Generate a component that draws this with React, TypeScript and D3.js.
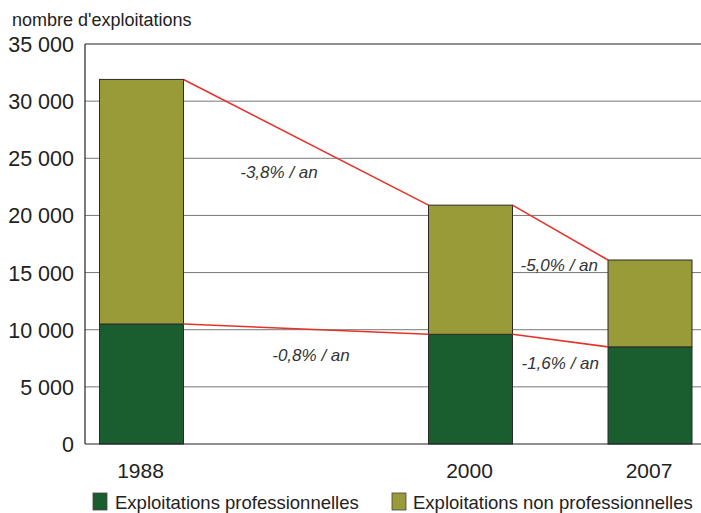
import React from 'react';
import { scaleLinear } from 'd3';

const years = [1988, 2000, 2007];
const professionnelles = [10500, 9600, 8500];
const nonProfessionnelles = [21400, 11300, 7600];
const yTicks = [0, 5000, 10000, 15000, 20000, 25000, 30000, 35000];
const totalRates = ['-3,8% / an', '-5,0% / an'];
const proRates = ['-0,8% / an', '-1,6% / an'];

const GREEN = '#1a5e2f';
const OLIVE = '#989b37';
const RED = '#e2342b';
const FONT = 'Liberation Sans, Arial, sans-serif';

const App = () => {
  const left = 85;
  const right = 701;
  const top = 44;
  const bottom = 444;
  const barWidth = 84;

  const xScale = scaleLinear().domain(years).range([141.5, 470.5, 650]);
  const yScale = scaleLinear().domain([0, 35000]).range([bottom, top]);

  const totals = years.map((y, i) => professionnelles[i] + nonProfessionnelles[i]);
  const fmt = (v: number) => (v === 0 ? '0' : `${Math.floor(v / 1000)} ${String(v % 1000).padStart(3, '0')}`);

  // segments joining bar edges
  const segs = (vals: number[]) =>
    years.slice(0, -1).map((yr, i) => ({
      x1: xScale(yr) + barWidth / 2,
      y1: yScale(vals[i]),
      x2: xScale(years[i + 1]) - barWidth / 2,
      y2: yScale(vals[i + 1]),
    }));
  const totalSegs = segs(totals);
  const proSegs = segs(professionnelles);
  // label offsets from segment midpoint
  const totalOffsets = [[-27, 36], [-1, 38]];
  const proOffsets = [[5, 32], [0, 28]];

  return (
    <svg width={701} height={513} style={{ position: 'absolute', left: 0, top: 0, background: '#fff' }} fontFamily={FONT}>
      <text x={12} y={26} fontSize={18} fill="#222">nombre d'exploitations</text>

      {yTicks.map((t) => (
        <g key={t}>
          {t > 0 && (
            <line x1={left} x2={right} y1={yScale(t)} y2={yScale(t)} stroke={t === 35000 ? '#222' : '#777'} strokeWidth={1} />
          )}
          <text x={74} y={yScale(t) + 8} textAnchor="end" fontSize={21.5} fill="#222">{fmt(t)}</text>
        </g>
      ))}

      {years.map((yr, i) => (
        <g key={yr}>
          <rect x={xScale(yr) - barWidth / 2} y={yScale(professionnelles[i])} width={barWidth}
            height={bottom - yScale(professionnelles[i])} fill={GREEN} stroke="#2a2a2a" strokeWidth={1} />
          <rect x={xScale(yr) - barWidth / 2} y={yScale(totals[i])} width={barWidth}
            height={yScale(professionnelles[i]) - yScale(totals[i])} fill={OLIVE} stroke="#2a2a2a" strokeWidth={1} />
          <text x={xScale(yr) - 1} y={478} textAnchor="middle" fontSize={21} fill="#222">{yr}</text>
        </g>
      ))}

      <line x1={left} x2={left} y1={top} y2={bottom} stroke="#222" strokeWidth={1.2} />
      <line x1={left} x2={right} y1={bottom} y2={bottom} stroke="#222" strokeWidth={1.2} />

      {totalSegs.map((s, i) => (
        <g key={'t' + i}>
          <line {...s} stroke={RED} strokeWidth={1.6} />
          <text x={(s.x1 + s.x2) / 2 + totalOffsets[i][0]} y={(s.y1 + s.y2) / 2 + totalOffsets[i][1]}
            textAnchor="middle" fontSize={17} fontStyle="italic" fill="#333">{totalRates[i]}</text>
        </g>
      ))}
      {proSegs.map((s, i) => (
        <g key={'p' + i}>
          <line {...s} stroke={RED} strokeWidth={1.6} />
          <text x={(s.x1 + s.x2) / 2 + proOffsets[i][0]} y={(s.y1 + s.y2) / 2 + proOffsets[i][1]}
            textAnchor="middle" fontSize={17} fontStyle="italic" fill="#333">{proRates[i]}</text>
        </g>
      ))}

      <rect x={93} y={493} width={14} height={17} fill={GREEN} stroke="#444" strokeWidth={0.8} />
      <text x={115} y={509} fontSize={18.5} fill="#222">Exploitations professionnelles</text>
      <rect x={392} y={493} width={14} height={17} fill={OLIVE} stroke="#444" strokeWidth={0.8} />
      <text x={413} y={509} fontSize={18.5} fill="#222">Exploitations non professionnelles</text>
    </svg>
  );
};

export default App;
